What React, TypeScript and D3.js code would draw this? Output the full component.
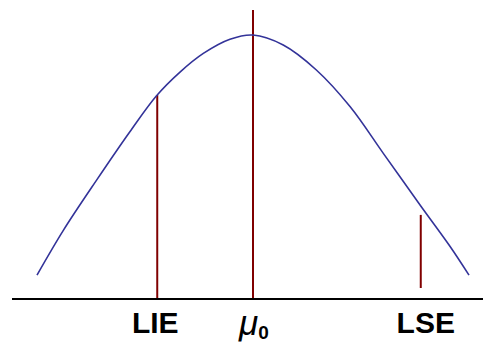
import React from "react";
import * as d3 from "d3";

// Curve: x in σ units from μ0, y relative density (peak = 1)
const curveX = [-3.0, -2.63, -2.17, -1.71, -1.34, -1.01, -0.69, -0.32, 0, 0.42, 0.88, 1.35, 1.81, 2.33, 2.74, 3.0];
const curveY = [0.087, 0.259, 0.449, 0.632, 0.769, 0.86, 0.93, 0.984, 1, 0.962, 0.867, 0.727, 0.55, 0.35, 0.195, 0.087];

// Vertical markers
const markerNames = ["LIE", "μ0", "LSE"];
const markerX = [-1.33, 0, 2.33];
const markerTop = [0.772, 1.095, 0.316];
const markerBottom = [0, 0, 0.038];

const W = 483;
const H = 344;

export default function App() {
  const x = d3.scaleLinear().domain([-3, 3]).range([37, 469]);
  const y = d3.scaleLinear().domain([0, 1]).range([298, 35]);
  const pts: [number, number][] = curveX.map((v, i) => [v, curveY[i]]);
  const line = d3
    .line<[number, number]>()
    .x((d) => x(d[0]))
    .y((d) => y(d[1]))
    .curve(d3.curveCatmullRom.alpha(0.5));

  return (
    <svg
      width={W}
      height={H}
      style={{ position: "absolute", left: 0, top: 0, background: "#fff" }}
      fontFamily="'Liberation Sans', Arial, sans-serif"
    >
      <line x1={12} x2={W} y1={y(0) + 1} y2={y(0) + 1} stroke="#000" strokeWidth={2} />
      {markerNames.map((n, i) => (
        <line
          key={n}
          x1={x(markerX[i])}
          x2={x(markerX[i])}
          y1={y(markerTop[i])}
          y2={y(markerBottom[i])}
          stroke="#800000"
          strokeWidth={2}
        />
      ))}
      <path d={line(pts) || ""} fill="none" stroke="#333399" strokeWidth={1.6} />
      <text x={x(markerX[0]) - 2} y={333} textAnchor="middle" fontWeight="bold" fontSize={30}>
        {markerNames[0]}
      </text>
      <text x={x(markerX[1]) - 14} y={335} fontSize={35} fontStyle="italic">
        μ
        <tspan fontSize={19} fontWeight="bold" fontStyle="normal" dy={4}>
          0
        </tspan>
      </text>
      <text x={x(markerX[2]) + 5} y={333} textAnchor="middle" fontWeight="bold" fontSize={30}>
        {markerNames[2]}
      </text>
    </svg>
  );
}
